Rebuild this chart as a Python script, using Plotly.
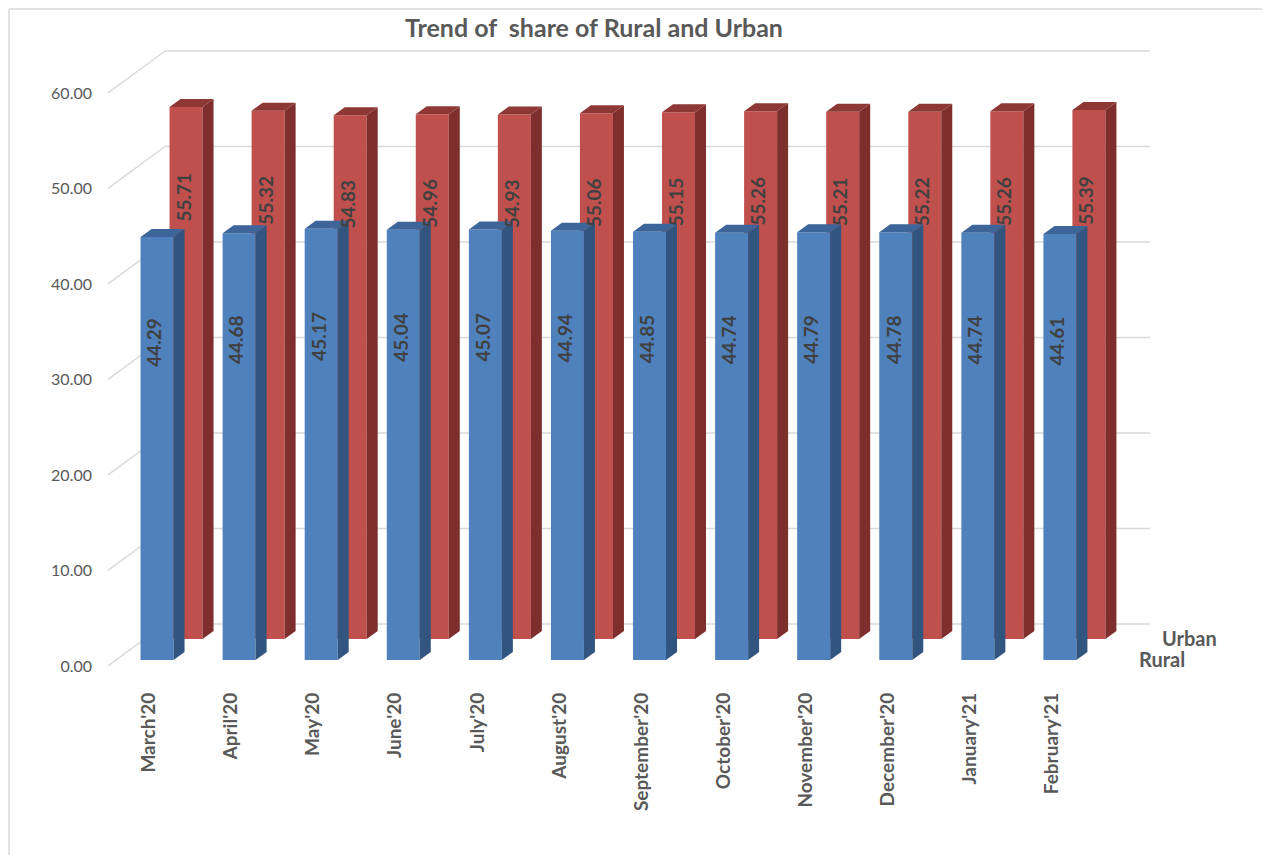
import plotly.graph_objects as go

months = ["March'20", "April'20", "May'20", "June'20", "July'20", "August'20",
          "September'20", "October'20", "November'20", "December'20", "January'21", "February'21"]
rural = [44.29, 44.68, 45.17, 45.04, 45.07, 44.94, 44.85, 44.74, 44.79, 44.78, 44.74, 44.61]
urban = [55.71, 55.32, 54.83, 54.96, 54.93, 55.06, 55.15, 55.26, 55.21, 55.22, 55.26, 55.39]
series_names = ["Rural", "Urban"]
y_ticks = [0, 10, 20, 30, 40, 50, 60]
title_text = "Trend of  share of Rural and Urban"

PAGE_OFF = 8  # body margin of the html page
W, H = 1271 - 2 * PAGE_OFF, 863 - 2 * PAGE_OFF
ML, MT = 108 - PAGE_OFF, 45 - PAGE_OFF
MR = 1271 - 1150 - PAGE_OFF
MB = 863 - 666 - PAGE_OFF
PXX = 82.08   # px per category
PXY = 9.55    # px per unit
XR0 = -0.5
XR1 = XR0 + (W - ML - MR) / PXX
YR1 = (H - MT - MB) / PXY


def dx(px):
    return px / PXX


def dy(px):
    return px / PXY


def to_paper_x(x):
    return (x - XR0) / (XR1 - XR0)


def to_paper_y(y):
    return y / YR1


BAR_W = dx(33)
SIDE_DX, SIDE_DY = dx(11), dy(8)
BACK_DX, BACK_DY = dx(57), dy(42)

series = [
    # name, values, x offset, base, front, side, top, label fraction
    ("Urban", urban, dx(37), dy(27), "#C0504D", "#7D2E2D", "#8E3835", 0.83),
    ("Rural", rural, dx(8), dy(6), "#4F81BD", "#32557F", "#3D659A", 0.75),
]

fig = go.Figure()
annotations = []

for name, vals, xo, base, cf, cs, ct, frac in series:
    xs = [i + xo for i in range(len(vals))]
    fig.add_trace(go.Bar(x=xs, y=vals, base=[base] * len(vals), width=BAR_W,
                         marker=dict(color=cf, line=dict(width=0)), name=name,
                         showlegend=False, hoverinfo="skip"))
    sx, sy, tx, ty = [], [], [], []
    for xc, v in zip(xs, vals):
        x0, x1 = xc - BAR_W / 2, xc + BAR_W / 2
        top = base + v
        sx += [x1, x1 + SIDE_DX, x1 + SIDE_DX, x1, x1, None]
        sy += [base, base + SIDE_DY, top + SIDE_DY, top, base, None]
        tx += [x0, x1, x1 + SIDE_DX, x0 + SIDE_DX, x0, None]
        ty += [top, top, top + SIDE_DY, top + SIDE_DY, top, None]
        annotations.append(dict(x=xc - dx(3), y=base + v * frac, xref="x", yref="y",
                                text=f"{v:.2f}", textangle=-90, showarrow=False,
                                font=dict(family="Lato", size=19, color="#404040", weight="bold")))
    fig.add_trace(go.Scatter(x=sx, y=sy, fill="toself", fillcolor=cs, mode="lines",
                             line=dict(width=0, color=cs), showlegend=False, hoverinfo="skip"))
    fig.add_trace(go.Scatter(x=tx, y=ty, fill="toself", fillcolor=ct, mode="lines",
                             line=dict(width=0, color=ct), showlegend=False, hoverinfo="skip"))

shapes = []
grid_color = "#D9D9D9"
for t in y_ticks:
    shapes.append(dict(type="line", xref="x", yref="y", x0=XR0 + BACK_DX, x1=XR1,
                       y0=t + BACK_DY, y1=t + BACK_DY, line=dict(color=grid_color, width=1.5),
                       layer="below"))
    shapes.append(dict(type="line", xref="x", yref="y", x0=XR0, x1=XR0 + BACK_DX,
                       y0=t, y1=t + BACK_DY, line=dict(color=grid_color, width=1.5),
                       layer="below"))

# outer chart border (left and top edges)
pw, ph = W - ML - MR, H - MT - MB
shapes.append(dict(type="line", xref="paper", yref="paper",
                   x0=(1 - ML) / pw, x1=(1 - ML) / pw, y0=-MB / ph, y1=(ph + MT - 1) / ph,
                   line=dict(color="#D9D9D9", width=1.5), layer="below"))
shapes.append(dict(type="line", xref="paper", yref="paper",
                   x0=(1 - ML) / pw, x1=(W - 1 - ML) / pw, y0=(ph + MT - 1) / ph, y1=(ph + MT - 1) / ph,
                   line=dict(color="#D9D9D9", width=1.5), layer="below"))

# depth axis labels (Rural = front series, Urban = back series)
rural_s, urban_s = series[1], series[0]
annotations.append(dict(x=to_paper_x(11.5 + rural_s[2] + dx(36)), y=to_paper_y(rural_s[3] + dy(1)),
                        xref="paper", yref="paper", text=series_names[0], showarrow=False,
                        xanchor="left", yanchor="middle",
                        font=dict(family="Lato", size=20, color="#595959", weight="bold")))
annotations.append(dict(x=to_paper_x(11.5 + urban_s[2] + dx(30)), y=to_paper_y(urban_s[3] + dy(1)),
                        xref="paper", yref="paper", text=series_names[1], showarrow=False,
                        xanchor="left", yanchor="middle",
                        font=dict(family="Lato", size=20, color="#595959", weight="bold")))

fig.update_layout(
    width=W, height=H,
    margin=dict(l=ML, r=MR, t=MT, b=MB),
    paper_bgcolor="white", plot_bgcolor="white",
    barmode="overlay",
    title=dict(text=title_text, x=(594 - PAGE_OFF) / W, y=1 - (28 - PAGE_OFF) / H,
               xref="container", yref="container", xanchor="center", yanchor="middle",
               font=dict(family="Lato", size=25, color="#595959", weight="bold")),
    xaxis=dict(range=[XR0, XR1], tickvals=list(range(len(months))), ticktext=months,
               tickangle=-90, showgrid=False, zeroline=False, showline=False, ticks="",
               ticklabelstandoff=22,
               tickfont=dict(family="Lato", size=19, color="#595959", weight="bold")),
    yaxis=dict(range=[0, YR1], tickvals=y_ticks, tickformat=".2f", showgrid=False,
               zeroline=False, showline=False, ticks="", ticklabelstandoff=15,
               tickfont=dict(family="Lato", size=16, color="#595959")),
    shapes=shapes,
    annotations=annotations,
)

fig.write_html("out.html")
